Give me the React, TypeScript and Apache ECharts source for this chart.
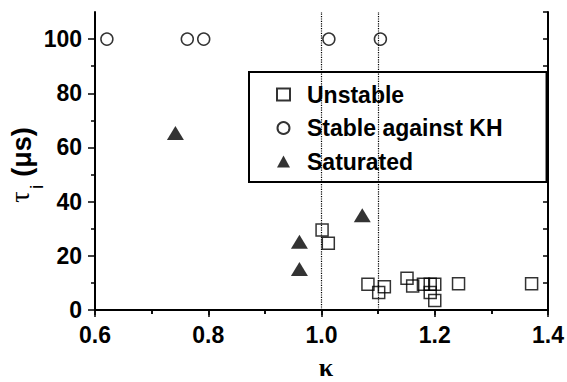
import React, { useEffect, useRef } from "react";
import * as echarts from "echarts";

const SANS = '"Liberation Sans", Arial, Helvetica, sans-serif';
const SERIF = '"Liberation Serif", "Times New Roman", serif';

const seriesNames = ["Unstable", "Stable against KH", "Saturated"];

const unstable: [number, number][] = [
  [1.001, 29.5], [1.012, 24.6], [1.082, 9.5], [1.101, 6.5], [1.111, 8.6],
  [1.151, 11.7], [1.161, 8.9], [1.18, 9.5], [1.192, 9.5], [1.2, 9.5],
  [1.192, 6.5], [1.2, 3.5], [1.242, 9.7], [1.371, 9.7],
];
const stable: [number, number][] = [
  [0.621, 100], [0.763, 100], [0.792, 100], [1.013, 100], [1.104, 100],
];
const saturated: [number, number][] = [
  [0.742, 65.3], [0.961, 25.2], [0.961, 15.1], [1.072, 35],
];
const dottedLines = [1.005, 1.102];

const yMajorTicks = [0, 20, 40, 60, 80, 100];
const yMinorTicks = [10, 30, 50, 70, 90];

export default function App() {
  const ref = useRef<HTMLDivElement>(null);
  useEffect(() => {
    document.body.style.margin = "0";
    const chart = echarts.init(ref.current!, null, { renderer: "svg" });
    const axisLine = { show: true, lineStyle: { color: "#000", width: 2 } };
    const tickStyle = { color: "#000", width: 1.5 };
    const option: any = {
      animation: false,
      backgroundColor: "#fff",
      grid: { left: 95, right: 16, top: 12, bottom: 72 },
      xAxis: [
        {
          type: "value", position: "bottom", min: 0.6, max: 1.4, interval: 0.2,
          axisLine, splitLine: { show: false },
          axisTick: { show: true, inside: false, length: 7, lineStyle: tickStyle },
          minorTick: { show: true, splitNumber: 2, length: 4, lineStyle: tickStyle },
          axisLabel: {
            margin: 13, color: "#000", fontSize: 23, fontWeight: "bold", fontFamily: SANS,
            formatter: (v: number) => v.toFixed(1),
          },
        },
        {
          type: "value", position: "top", min: 0.6, max: 1.4, interval: 0.2,
          axisLine, splitLine: { show: false },
          axisTick: { show: true, inside: true, length: 5, lineStyle: tickStyle },
          minorTick: { show: true, splitNumber: 2, length: 4, lineStyle: tickStyle },
          axisLabel: { show: false },
        },
      ],
      yAxis: [
        {
          type: "value", position: "left", min: 0, max: 110, interval: 10,
          axisLine, splitLine: { show: false },
          axisTick: { show: true, inside: false, length: 7, lineStyle: tickStyle, customValues: yMajorTicks },
          axisLabel: {
            margin: 13, color: "#000", fontSize: 23, fontWeight: "bold", fontFamily: SANS,
            customValues: yMajorTicks,
          },
        },
        {
          type: "value", position: "left", min: 0, max: 110, interval: 10,
          axisLine: { show: false }, splitLine: { show: false },
          axisTick: { show: true, inside: false, length: 4, lineStyle: tickStyle, customValues: yMinorTicks },
          axisLabel: { show: false },
        },
        {
          type: "value", position: "right", min: 0, max: 110, interval: 10,
          axisLine, splitLine: { show: false },
          axisTick: { show: true, inside: true, length: 5, lineStyle: tickStyle },
          axisLabel: { show: false },
        },
      ],
      legend: {
        orient: "vertical", left: 249, top: 72,
        padding: [11, 44, 9, 27], itemGap: 10.5, itemWidth: 13, itemHeight: 12,
        borderColor: "#000", borderWidth: 2, backgroundColor: "#fff",
        textStyle: { fontSize: 23, fontWeight: "bold", fontFamily: SANS, color: "#000", padding: [0, 0, 0, 12] },
        data: seriesNames,
      },
      series: [
        {
          type: "scatter", silent: true, data: [],
          markLine: {
            silent: true, symbol: "none", label: { show: false },
            lineStyle: { type: "dotted", color: "#000", width: 1.2 },
            data: dottedLines.map((x) => ({ xAxis: x })),
          },
        },
        {
          name: seriesNames[0], type: "scatter", symbol: "rect", symbolSize: 12,
          itemStyle: { color: "transparent", borderColor: "#000", borderWidth: 1.5 },
          data: unstable,
        },
        {
          name: seriesNames[1], type: "scatter", symbol: "circle", symbolSize: 12,
          itemStyle: { color: "transparent", borderColor: "#000", borderWidth: 1.5 },
          data: stable,
        },
        {
          name: seriesNames[2], type: "scatter", symbol: "triangle", symbolSize: [17, 14],
          itemStyle: { color: "#000" },
          data: saturated,
        },
      ],
      graphic: [
        {
          type: "text", x: 326, y: 367,
          style: { text: "κ", font: `bold 26px ${SERIF}`, fill: "#000", align: "center", verticalAlign: "middle" },
        },
        {
          type: "text", x: 22, y: 152, rotation: Math.PI / 2,
          style: { text: "(μs)", font: `bold 27px ${SANS}`, fill: "#000", align: "center", verticalAlign: "middle" },
        },
        {
          type: "text", x: 19, y: 197, rotation: Math.PI / 2,
          style: { text: "τ", font: `28px ${SERIF}`, fill: "#000", align: "center", verticalAlign: "middle" },
        },
        {
          type: "text", x: 36, y: 187, rotation: Math.PI / 2,
          style: { text: "i", font: `19px ${SANS}`, fill: "#000", align: "center", verticalAlign: "middle" },
        },
      ],
    };
    chart.setOption(option);
    return () => chart.dispose();
  }, []);
  return <div ref={ref} style={{ width: 567, height: 382 }} />;
}
